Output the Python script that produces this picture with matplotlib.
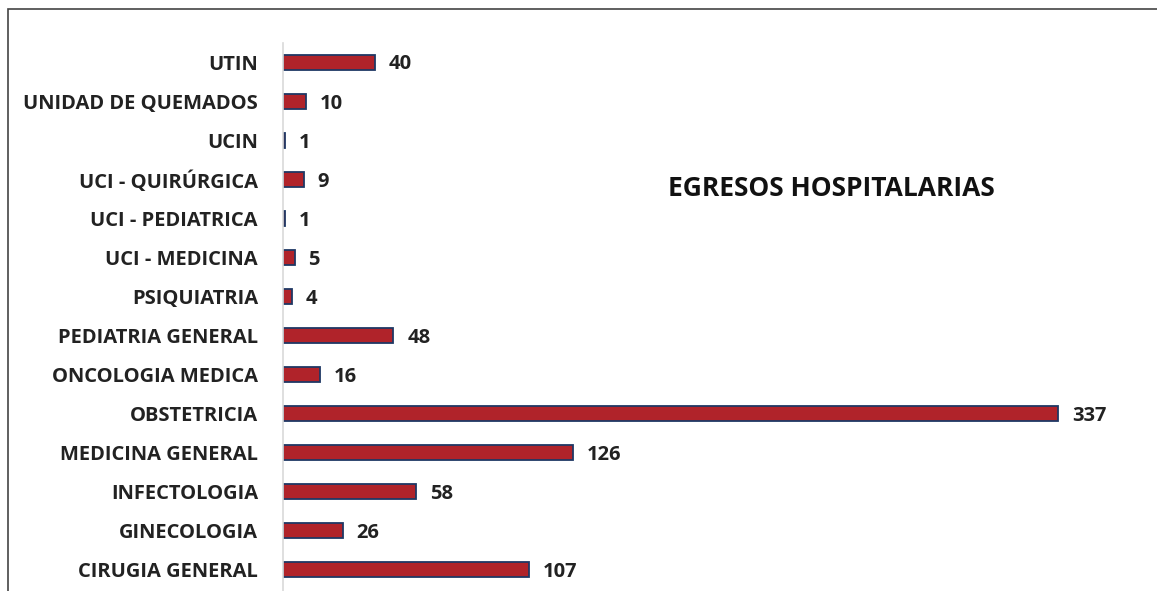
import matplotlib
matplotlib.use("Agg")
import matplotlib.pyplot as plt
from matplotlib.patches import Rectangle

servicios = ["CIRUGIA GENERAL", "GINECOLOGIA", "INFECTOLOGIA", "MEDICINA GENERAL",
             "OBSTETRICIA", "ONCOLOGIA MEDICA", "PEDIATRIA GENERAL", "PSIQUIATRIA",
             "UCI - MEDICINA", "UCI - PEDIATRICA", "UCI - QUIRÚRGICA", "UCIN",
             "UNIDAD DE QUEMADOS", "UTIN"]
egresos = [107, 26, 58, 126, 337, 16, 48, 4, 5, 1, 9, 1, 10, 40]
titulo = "EGRESOS HOSPITALARIAS"

plt.rcParams["font.family"] = ["Open Sans", "DejaVu Sans"]

fig = plt.figure(figsize=(11.57, 5.91), dpi=100)
ax = fig.add_axes([283 / 1157, 0, 874 / 1157, 1 - 43 / 591])

pos = list(range(len(servicios)))
ax.barh(pos, egresos, height=0.38, color="#B0232A", edgecolor="#1F3864", linewidth=1.3)
for p, v in zip(pos, egresos):
    ax.text(v + 6, p - 0.06, str(v), va="center", ha="left", fontsize=14.5,
            fontweight="bold", color="#222222")

ax.set_xlim(0, 380)
ax.set_ylim(-0.54, len(servicios) - 0.51)
ax.set_yticks(pos)
ax.set_yticklabels(servicios, fontsize=14.5, fontweight="bold", color="#222222")
ax.tick_params(axis="y", length=0, pad=18)
ax.set_xticks([])
for s in ["top", "right", "bottom"]:
    ax.spines[s].set_visible(False)
ax.spines["left"].set_color("#D9D9D9")
ax.spines["left"].set_linewidth(1.2)

fig.text(831 / 1157, 1 - 188 / 591, titulo, ha="center", va="center",
         fontsize=19, fontweight="bold", color="#111111")

# marco exterior
fig.patches.append(Rectangle((8 / 1157, -0.1), 1.2, 1 - 9 / 591 + 0.1,
                             transform=fig.transFigure, fill=False,
                             edgecolor="#444444", linewidth=1.2))

fig.savefig("out.png", dpi=100)
